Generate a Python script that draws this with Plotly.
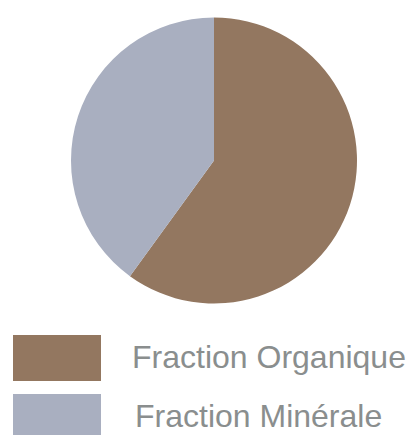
import plotly.graph_objects as go

labels = ["Fraction Organique", "Fraction Minérale"]
values = [60, 40]
colors = ["#937760", "#A9AFC0"]
text_x = [130, 133]

W, H = 407, 435

fig = go.Figure(go.Pie(
    labels=labels, values=values, sort=False, direction="clockwise", rotation=0,
    marker=dict(colors=colors, line=dict(width=0)), textinfo="none", hoverinfo="label+percent",
    domain=dict(x=[71 / W, 357 / W], y=[1 - 303.5 / H, 1 - 17.5 / H]),
    showlegend=False,
))

shapes = []
annotations = []
for i, (lab, col) in enumerate(zip(labels, colors)):
    top = 335 + 59 * i
    shapes.append(dict(type="rect", xref="paper", yref="paper",
                       x0=13 / W, x1=101 / W, y0=1 - (top + 46) / H, y1=1 - top / H,
                       fillcolor=col, line=dict(width=0)))
    annotations.append(dict(text=lab, xref="paper", yref="paper", x=text_x[i] / W,
                            y=1 - (top + 22) / H, xanchor="left", yanchor="middle",
                            showarrow=False,
                            font=dict(family="Liberation Sans, Arial", size=32, color="#8a8e8e")))

fig.update_layout(width=W, height=H, margin=dict(l=0, r=0, t=0, b=0),
                  paper_bgcolor="white", plot_bgcolor="white",
                  shapes=shapes, annotations=annotations)
fig.write_html("out.html", config={"displayModeBar": False},
               post_script="document.body.style.margin='0';document.body.style.overflow='hidden';")
